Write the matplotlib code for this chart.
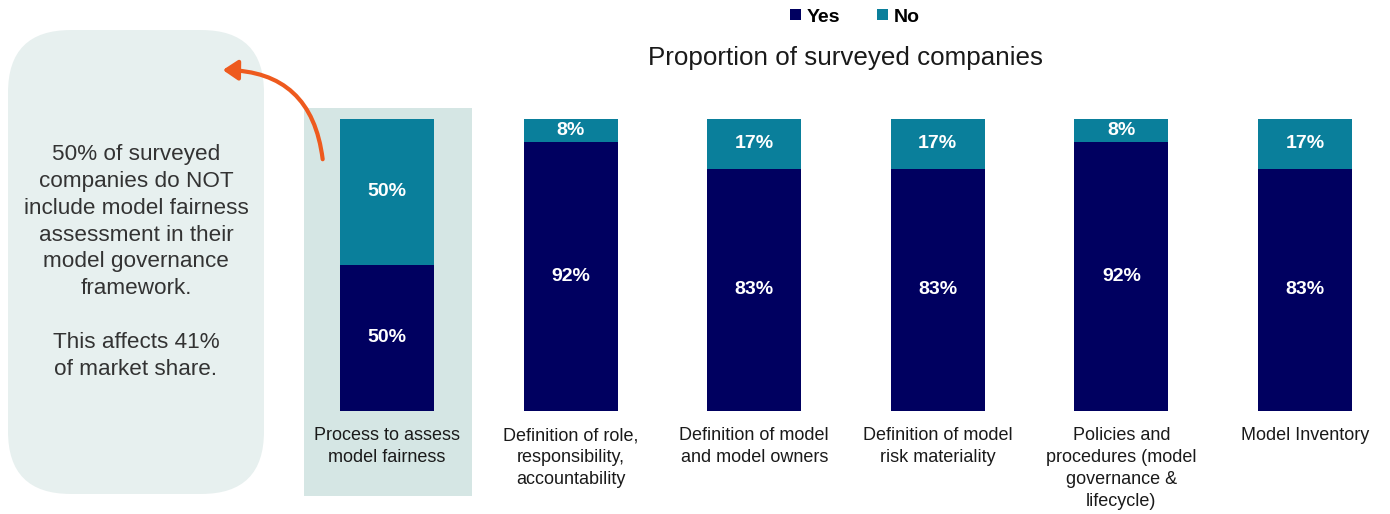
import matplotlib
matplotlib.use("Agg")
import matplotlib.pyplot as plt
from matplotlib.patches import FancyBboxPatch, Rectangle, FancyArrowPatch

plt.rcParams['font.family'] = ['Liberation Sans', 'DejaVu Sans']

categories = ["Process to assess\nmodel fairness",
              "Definition of role,\nresponsibility,\naccountability",
              "Definition of model\nand model owners",
              "Definition of model\nrisk materiality",
              "Policies and\nprocedures (model\ngovernance &\nlifecycle)",
              "Model Inventory"]
yes_vals = [50, 92, 83, 83, 92, 83]
no_vals = [50, 8, 17, 17, 8, 17]
series_names = ["Yes", "No"]
title_text = "Proportion of surveyed companies"
callout_text = ("50% of surveyed\ncompanies do NOT\ninclude model fairness\nassessment in their\n"
                "model governance\nframework.\n\nThis affects 41%\nof market share.")

YES_C = "#000060"
NO_C = "#0A7F9B"

W, H = 1390, 514
fig = plt.figure(figsize=(W / 100, H / 100), dpi=100)

def fx(px): return px / W
def fy(py): return 1 - py / H

# left callout box
box = FancyBboxPatch((fx(8) + 0.02, fy(497) + 0.06), fx(264) - fx(8) - 0.04, fy(27) - fy(497) - 0.12,
                     boxstyle="round,pad=0.02,rounding_size=0.045", transform=fig.transFigure,
                     facecolor="#E7F0EF", edgecolor="none", mutation_aspect=W / H)
fig.patches.append(box)
fig.text(fx(136), fy(262), callout_text, ha="center", va="center", fontsize=16.2,
         color="#333333", linespacing=1.37)

# axes
ax_left, ax_right = 295, 1390
ax = fig.add_axes([fx(ax_left), fy(411), fx(ax_right) - fx(ax_left), fy(119) - fy(411)])
x0, dx = 387, 183.6
ax.set_xlim((ax_left - x0) / dx, (ax_right - x0) / dx)
ax.set_ylim(0, 100)
ax.axis("off")

xs = list(range(len(categories)))
bw = 94 / dx

# highlight
ax.add_patch(Rectangle(((304 - x0) / dx, (411 - 496) / 292 * 100), (472 - 304) / dx, (496 - 108) / 292 * 100,
                       facecolor="#D5E6E4", edgecolor="none", clip_on=False, zorder=0))

ax.bar(xs, yes_vals, width=bw, color=YES_C, zorder=2, label=series_names[0])
ax.bar(xs, no_vals, width=bw, bottom=yes_vals, color=NO_C, zorder=2, label=series_names[1])

for x, y, n in zip(xs, yes_vals, no_vals):
    ax.text(x, y / 2, f"{y}%", ha="center", va="center", color="white", fontsize=14,
            fontweight="bold", zorder=3)
    ax.text(x, y + n / 2, f"{n}%", ha="center", va="center", color="white", fontsize=14,
            fontweight="bold", zorder=3)

for x, lab in zip(xs, categories):
    ax.text(x, -5.5, lab, ha="center", va="top", fontsize=13, color="#1a1a1a",
            linespacing=1.38, zorder=3)

# title and legend
fig.text(fx(845), fy(58), title_text, ha="center", va="center", fontsize=18.7, color="#1a1a1a")
fig.legend(loc="center", bbox_to_anchor=(fx(855), fy(17)), ncol=2, frameon=False,
           prop={"weight": "bold", "size": 14}, handlelength=0.55, handleheight=0.55,
           handletextpad=0.3, columnspacing=1.9)

# arrow
arr = FancyArrowPatch((fx(323), fy(162)), (fx(220), fy(70)), transform=fig.transFigure,
                      connectionstyle="arc3,rad=0.45", arrowstyle="-|>,head_length=9,head_width=6",
                      color="#EE5A1E", linewidth=3)
fig.patches.append(arr)

fig.savefig("out.png", dpi=100)
